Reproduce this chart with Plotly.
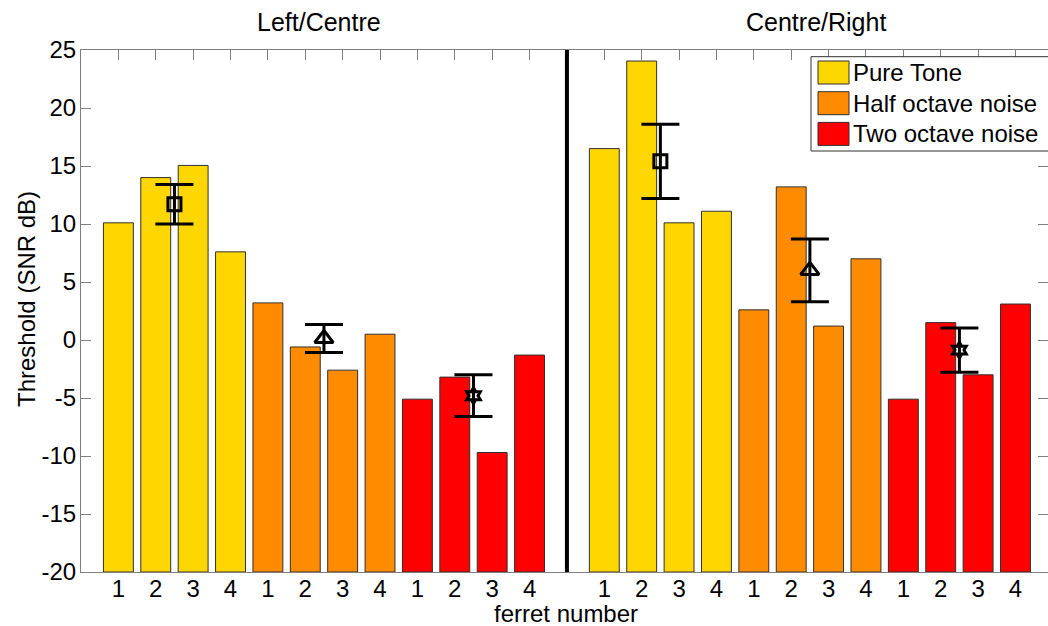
import plotly.graph_objects as go

# --- data -----------------------------------------------------------------
ferrets = ["1", "2", "3", "4"]
stimuli = ["Pure Tone", "Half octave noise", "Two octave noise"]
sides = ["Left/Centre", "Centre/Right"]

# thresholds (SNR dB) per ferret, left/centre discrimination
left_pure = [10.1, 14.0, 15.05, 7.6]
left_half = [3.2, -0.6, -2.6, 0.5]
left_two = [-5.1, -3.2, -9.7, -1.3]

# thresholds (SNR dB) per ferret, centre/right discrimination
right_pure = [16.5, 24.05, 10.1, 11.1]
right_half = [2.6, 13.2, 1.2, 7.0]
right_two = [-5.1, 1.5, -3.0, 3.1]

# group means and standard errors
left_mean = [11.7, 0.13, -4.8]
left_sem = [1.7, 1.2, 1.8]
right_mean = [15.4, 6.0, -0.87]
right_sem = [3.2, 2.7, 1.9]

y_ticks = [-20, -15, -10, -5, 0, 5, 10, 15, 20, 25]

# --- styling --------------------------------------------------------------
FONT = "Liberation Sans, Arial, sans-serif"
colors = ["#FFD700", "#FF8C00", "#FF0000"]
mean_symbols = ["square-open", "triangle-up-open", "hexagram-open"]
mean_sizes = [13, 16, 12]
BASE = -20          # bars are drawn up from the bottom of the axis
SIDE_STEP = 13      # offset between the two halves of the axis
W, H = 1048, 626
L, R, T, B = 81, 0, 50, 54
title_px = [319, 816]   # horizontal centres of the panel titles

values = [[left_pure, left_half, left_two], [right_pure, right_half, right_two]]
means = [left_mean, right_mean]
sems = [left_sem, right_sem]

fig = go.Figure()
tickvals, ticktext = [], []

for s, side in enumerate(sides):
    for k, stim in enumerate(stimuli):
        xs = [1 + s * SIDE_STEP + 4 * k + j for j in range(len(ferrets))]
        vals = values[s][k]
        tickvals += xs
        ticktext += ferrets
        fig.add_trace(go.Bar(
            x=xs, y=[v - BASE for v in vals], base=BASE,
            width=0.8, name=stim, showlegend=False,
            marker=dict(color=colors[k], line=dict(color="#303030", width=1)),
        ))

for s, side in enumerate(sides):
    for k, stim in enumerate(stimuli):
        xm = 1 + s * SIDE_STEP + 4 * k + 1.5
        fig.add_trace(go.Scatter(
            x=[xm], y=[means[s][k]], mode="markers", showlegend=False,
            marker=dict(symbol=mean_symbols[k], size=mean_sizes[k], color="black",
                        line=dict(color="black", width=3)),
            error_y=dict(type="data", array=[sems[s][k]], visible=True,
                         color="black", thickness=3, width=19),
        ))

# separator between the two halves
fig.add_shape(type="line", xref="x", yref="paper", x0=SIDE_STEP, x1=SIDE_STEP,
              y0=0, y1=1, line=dict(color="black", width=4), layer="above")

axis_common = dict(showline=True, linecolor="#808080", linewidth=1, mirror="ticks",
                   ticks="inside", ticklen=10, tickcolor="#808080", showgrid=False,
                   zeroline=False, layer="below traces",
                   tickfont=dict(family=FONT, size=24, color="black"))

fig.update_layout(
    width=W, height=H, autosize=False,
    margin=dict(l=L, r=R, t=T, b=B, pad=0),
    paper_bgcolor="white", plot_bgcolor="white",
    barmode="overlay", showlegend=False,
    xaxis=dict(range=[0, 25.87], tickmode="array", tickvals=tickvals,
               ticktext=ticktext, ticklabelstandoff=-5, **axis_common),
    yaxis=dict(range=[-20, 25], tickmode="array", tickvals=y_ticks,
               ticktext=[str(v) for v in y_ticks], ticklabelstandoff=-1,
               **axis_common),
)


def px_x(px):
    return (px - L) / (W - L - R)


def px_y(py):
    return (H - B - py) / (H - T - B)


# panel titles
for s, side in enumerate(sides):
    fig.add_annotation(x=px_x(title_px[s]), xref="paper", y=px_y(22), yref="paper",
                       text=side, showarrow=False, xanchor="center", yanchor="middle",
                       font=dict(family=FONT, size=25, color="black"))

# axis titles
fig.add_annotation(x=px_x(566), xref="paper", y=px_y(613), yref="paper",
                   text="ferret number", showarrow=False, xanchor="center",
                   yanchor="middle", font=dict(family=FONT, size=24, color="black"))
fig.add_annotation(x=px_x(26), xref="paper", y=px_y(299), yref="paper",
                   text="Threshold (SNR dB)", showarrow=False, textangle=-90,
                   xanchor="center", yanchor="middle",
                   font=dict(family=FONT, size=24, color="black"))

# legend box
fig.add_shape(type="rect", xref="paper", yref="paper",
              x0=px_x(811), x1=px_x(1060), y0=px_y(151), y1=px_y(56.7),
              line=dict(color="#303030", width=1), fillcolor="white", layer="above")
for k, stim in enumerate(stimuli):
    top = 61 + 30.7 * k
    fig.add_shape(type="rect", xref="paper", yref="paper",
                  x0=px_x(818), x1=px_x(849), y0=px_y(top + 23), y1=px_y(top),
                  line=dict(color="#303030", width=1), fillcolor=colors[k], layer="above")
    fig.add_annotation(x=px_x(851), xref="paper", y=px_y(top + 11.5), yref="paper",
                       text=stim, showarrow=False, xanchor="left", yanchor="middle",
                       font=dict(family=FONT, size=24, color="black"))

fig.write_html("out.html")
